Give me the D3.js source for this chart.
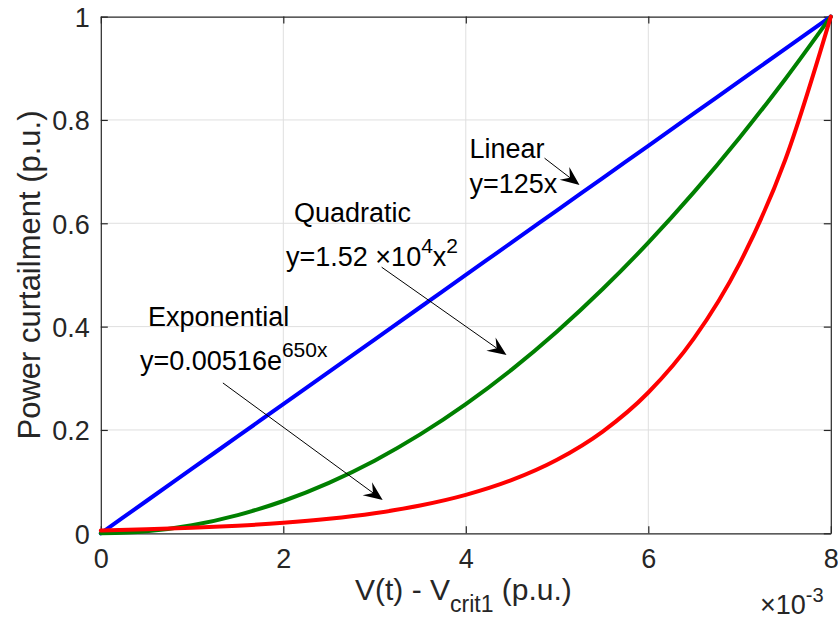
<!DOCTYPE html>
<html><head><meta charset="utf-8">
<script src="https://cdn.jsdelivr.net/npm/d3@7"></script>
<style>body{margin:0;background:#fff}svg{display:block}text{font-family:"Liberation Sans",Arial,sans-serif}</style>
</head><body><svg id="c" width="838" height="622"></svg>
<script>
// x in units of 1e-3 p.u.
const xVals = [0,0.5,1,1.5,2,2.5,3,3.5,4,4.5,5,5.5,6,6.5,7,7.5,8];
const linearY = [0,0.0625,0.125,0.1875,0.25,0.3125,0.375,0.4375,0.5,0.5625,0.625,0.6875,0.75,0.8125,0.875,0.9375,1];
const quadY = [0,0.0039,0.0156,0.0352,0.0625,0.0977,0.1406,0.1914,0.25,0.3164,0.3906,0.4727,0.5625,0.6602,0.7656,0.8789,1];
const expY = [0.0055,0.0076,0.0106,0.0146,0.0202,0.0280,0.0388,0.0537,0.0743,0.1028,0.1423,0.1969,0.2725,0.3772,0.5220,0.7225,1];
const xTicks = [0,2,4,6,8];
const yTicks = [0,0.2,0.4,0.6,0.8,1];
const yTickLabels = ["0","0.2","0.4","0.6","0.8","1"];
const seriesNames = ["Linear","Quadratic","Exponential"];
const seriesColors = ["#0000ff","#008000","#ff0000"];

const svg = d3.select("#c");
const L=100.8, R=830.8, T=16.6, B=533.3;
const x = d3.scaleLinear().domain([0,8]).range([L,R]);
const y = d3.scaleLinear().domain([0,1]).range([B,T]);
const axisCol = "#262626";

// grid
svg.append("g").selectAll("line").data(xTicks.slice(1,-1)).join("line")
  .attr("x1",d=>x(d)).attr("x2",d=>x(d)).attr("y1",T).attr("y2",B)
  .attr("stroke","#dfdfdf").attr("stroke-width",1);
svg.append("g").selectAll("line").data(yTicks.slice(1,-1)).join("line")
  .attr("y1",d=>y(d)).attr("y2",d=>y(d)).attr("x1",L).attr("x2",R)
  .attr("stroke","#dfdfdf").attr("stroke-width",1);

// axes
const tickLen = 7;
const gx = svg.append("g").attr("transform",`translate(0,${B})`)
  .call(d3.axisBottom(x).tickValues(xTicks).tickFormat(d3.format("d")).tickSizeInner(-tickLen).tickSizeOuter(0).tickPadding(20));
const gxTop = svg.append("g").attr("transform",`translate(0,${T})`)
  .call(d3.axisTop(x).tickValues(xTicks).tickFormat("").tickSizeInner(-tickLen).tickSizeOuter(0));
const gy = svg.append("g").attr("transform",`translate(${L},0)`)
  .call(d3.axisLeft(y).tickValues(yTicks).tickFormat((d,i)=>yTickLabels[i]).tickSizeInner(-tickLen).tickSizeOuter(0).tickPadding(11));
const gyR = svg.append("g").attr("transform",`translate(${R},0)`)
  .call(d3.axisRight(y).tickValues(yTicks).tickFormat("").tickSizeInner(-tickLen).tickSizeOuter(0));
[gx,gxTop,gy,gyR].forEach(g=>{
  g.select(".domain").attr("stroke",axisCol).attr("stroke-width",1.2);
  g.selectAll(".tick line").attr("stroke",axisCol).attr("stroke-width",1.2);
  g.selectAll("text").attr("fill",axisCol).attr("font-size",27).attr("font-family","Liberation Sans, Arial, sans-serif");
});
gx.selectAll(".tick text").attr("dy","0.55em");
gy.selectAll(".tick text").attr("dy","0.36em");

// curves
const line = d3.line().x(d=>x(d[0])).y(d=>y(d[1])).curve(d3.curveMonotoneX);
[linearY,quadY,expY].forEach((ys,i)=>{
  svg.append("path").datum(xVals.map((v,j)=>[v,ys[j]]))
    .attr("d",line).attr("fill","none").attr("stroke",seriesColors[i])
    .attr("stroke-width",4).attr("stroke-linejoin","round").attr("stroke-linecap","round");
});

// axis labels
svg.append("text").attr("transform",`translate(40,275) rotate(-90)`).attr("text-anchor","middle")
  .attr("font-size",31).attr("fill",axisCol).text("Power curtailment (p.u.)");
const xl = svg.append("text").attr("x",355).attr("y",600).attr("font-size",30).attr("fill",axisCol);
xl.append("tspan").text("V(t) - V");
xl.append("tspan").attr("font-size",23).attr("dy",12).text("crit1");
xl.append("tspan").attr("dy",-12).text(" (p.u.)");
const ex = svg.append("text").attr("x",760).attr("y",614).attr("font-size",27).attr("fill",axisCol);
ex.append("tspan").text("\u00d710");
ex.append("tspan").attr("font-size",20).attr("dy",-12).text("-3");

// annotations (data coords, x in 1e-3)
function arrow(x1,y1,x2,y2){
  const px1=x(x1),py1=y(y1),px2=x(x2),py2=y(y2);
  const a=Math.atan2(py2-py1,px2-px1);
  const hl=19, hw=8, notch=12;
  const bx=px2-hl*Math.cos(a), by=py2-hl*Math.sin(a);
  const nx=px2-notch*Math.cos(a), ny=py2-notch*Math.sin(a);
  svg.append("line").attr("x1",px1).attr("y1",py1).attr("x2",nx).attr("y2",ny)
    .attr("stroke","#000").attr("stroke-width",1);
  const p=[[px2,py2],[bx-hw*Math.sin(a),by+hw*Math.cos(a)],[nx,ny],[bx+hw*Math.sin(a),by-hw*Math.cos(a)]];
  svg.append("path").attr("d","M"+p.map(q=>q.join(",")).join("L")+"Z").attr("fill","#000");
}
function label(xd,yd,parts){
  const t=svg.append("text").attr("x",x(xd)).attr("y",y(yd)).attr("font-size",27).attr("fill","#000");
  parts.forEach(p=>{
    const s=t.append("tspan").text(p.t);
    if(p.sup){s.attr("font-size",21).attr("dy",-13);} 
    if(p.down){s.attr("dy",13);}
  });
}
label(4.04,0.726,[{t:"Linear"}]);
label(4.04,0.659,[{t:"y=125x"}]);
arrow(4.863,0.726,5.246,0.674);
label(2.117,0.6025,[{t:"Quadratic"}]);
label(2.03,0.517,[{t:"y=1.52 \u00d710"},{t:"4",sup:true},{t:"x",down:true},{t:"2",sup:true}]);
arrow(3.078,0.515,4.446,0.345);
label(0.518,0.401,[{t:"Exponential"}]);
label(0.43,0.316,[{t:"y=0.00516e"},{t:"650x",sup:true}]);
arrow(1.338,0.291,3.089,0.0645);
</script></body></html>
